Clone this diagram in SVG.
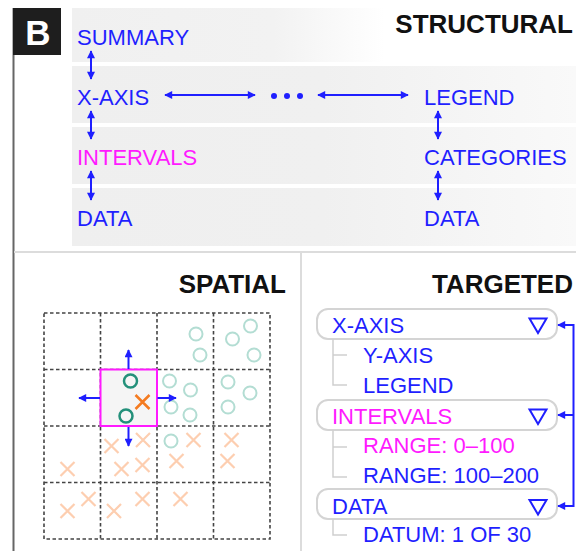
<svg xmlns="http://www.w3.org/2000/svg" width="576" height="551" viewBox="0 0 576 551">
<defs>
<linearGradient id="gTop" x1="0" y1="0" x2="1" y2="0">
<stop offset="0" stop-color="#f0f0f0"/><stop offset="0.4" stop-color="#f2f2f2"/><stop offset="0.62" stop-color="#ffffff"/>
</linearGradient>
<linearGradient id="gRow" x1="0" y1="0" x2="1" y2="0">
<stop offset="0" stop-color="#efefef"/><stop offset="0.5" stop-color="#f0f0f0"/><stop offset="1" stop-color="#f9f9f9"/>
</linearGradient>
<marker id="ah" viewBox="0 0 10 10" refX="9" refY="5" markerWidth="9" markerHeight="8" markerUnits="userSpaceOnUse" orient="auto-start-reverse">
<path d="M0,0 L10,5 L0,10 z" fill="#1f1fff"/>
</marker>
<g id="xs"><path d="M-7,-7 L7,7 M-7,7 L7,-7"/></g>
</defs>
<style>
.t{font-family:"Liberation Sans",Arial,sans-serif;font-size:22px;fill:#1f1fff}
.m{fill:#ff1aff}
.h{font-family:"Liberation Sans",Arial,sans-serif;font-size:26px;font-weight:bold;fill:#111;text-anchor:end}
.ar{stroke:#1f1fff;stroke-width:2;fill:none;marker-start:url(#ah);marker-end:url(#ah)}
.a1{stroke:#1f1fff;stroke-width:2;fill:none;marker-end:url(#ah)}
.grid{stroke:#444;stroke-width:1.6;stroke-dasharray:3.5 2.5;fill:none}
.lc{fill:none;stroke:#b3ddd3;stroke-width:2}
.dc{fill:none;stroke:#23907a;stroke-width:2.5}
.lx{stroke:#fdceb0;stroke-width:2.2;fill:none}
.dx{stroke:#f47b20;stroke-width:2.5;fill:none}
.box{fill:#fff;stroke:#d4d4d4;stroke-width:2}
.tree{stroke:#cfcfcf;stroke-width:1.5;fill:none}
.tri{fill:none;stroke:#1f1fff;stroke-width:2;stroke-linejoin:miter}
</style>
<rect width="576" height="551" fill="#fff"/>

<!-- frame -->
<line x1="13.5" y1="8" x2="13.5" y2="551" stroke="#666" stroke-width="2"/>
<line x1="14" y1="252" x2="576" y2="252" stroke="#dcdcdc" stroke-width="2"/>
<line x1="301" y1="252" x2="301" y2="551" stroke="#dcdcdc" stroke-width="2"/>
<g id="label-B">
<rect x="13" y="8" width="48" height="47" fill="#1e1e1e"/>
<text x="38" y="45" font-family="Liberation Sans,Arial,sans-serif" font-size="35" font-weight="bold" fill="#fff" text-anchor="middle">B</text>
</g>

<!-- structural bands -->
<rect x="72" y="8" width="504" height="54" fill="url(#gTop)"/>
<rect x="72" y="66" width="504" height="57" fill="url(#gRow)"/>
<rect x="72" y="127" width="504" height="57" fill="url(#gRow)"/>
<rect x="72" y="188" width="504" height="58" fill="url(#gRow)"/>
<text class="h" x="573" y="33">STRUCTURAL</text>

<g id="n-summary"><text class="t" x="77" y="45">SUMMARY</text></g>
<g id="n-xaxis"><text class="t" x="77" y="105">X-AXIS</text></g>
<g id="n-intervals"><text class="t m" x="77" y="165">INTERVALS</text></g>
<g id="n-data1"><text class="t" x="77" y="226">DATA</text></g>
<g id="n-dots"><circle cx="274" cy="96" r="3" fill="#1f1fff"/><circle cx="287" cy="96" r="3" fill="#1f1fff"/><circle cx="300" cy="96" r="3" fill="#1f1fff"/></g>
<g id="n-legend"><text class="t" x="424" y="105">LEGEND</text></g>
<g id="n-categories"><text class="t" x="424" y="165">CATEGORIES</text></g>
<g id="n-data2"><text class="t" x="424" y="226">DATA</text></g>

<g id="connectors">
<line class="ar" x1="91" y1="51" x2="91" y2="79"/>
<line class="ar" x1="91" y1="111" x2="91" y2="139"/>
<line class="ar" x1="91" y1="171" x2="91" y2="200"/>
<line class="ar" x1="438" y1="111" x2="438" y2="139"/>
<line class="ar" x1="438" y1="171" x2="438" y2="200"/>
<line class="ar" x1="165" y1="95" x2="255" y2="95"/>
<line class="ar" x1="318" y1="95" x2="408" y2="95"/>
</g>

<!-- spatial -->
<text class="h" x="286" y="293">SPATIAL</text>
<g id="spatial-grid">
<rect class="grid" x="44" y="313" width="226" height="226"/>
<line class="grid" x1="100.5" y1="313" x2="100.5" y2="539"/>
<line class="grid" x1="157" y1="313" x2="157" y2="539"/>
<line class="grid" x1="213.5" y1="313" x2="213.5" y2="539"/>
<line class="grid" x1="44" y1="369.5" x2="270" y2="369.5" stroke="#999"/>
<line class="grid" x1="44" y1="426" x2="270" y2="426"/>
<line class="grid" x1="44" y1="482.5" x2="270" y2="482.5"/>
</g>
<g id="spatial-points">
<circle class="lc" cx="196" cy="334" r="6.5"/>
<circle class="lc" cx="200" cy="355" r="6.5"/>
<circle class="lc" cx="232.5" cy="339" r="6.5"/>
<circle class="lc" cx="250.5" cy="326" r="6.5"/>
<circle class="lc" cx="254" cy="355" r="6.5"/>
<circle class="lc" cx="169.5" cy="381" r="6.5"/>
<circle class="lc" cx="190.5" cy="390" r="6.5"/>
<circle class="lc" cx="171" cy="407" r="6.5"/>
<circle class="lc" cx="190" cy="415" r="6.5"/>
<circle class="lc" cx="228" cy="382" r="6.5"/>
<circle class="lc" cx="250" cy="393" r="6.5"/>
<circle class="lc" cx="228" cy="407" r="6.5"/>
<circle class="lc" cx="171" cy="441" r="6.5"/>
<use href="#xs" class="lx" x="111.5" y="446"/>
<use href="#xs" class="lx" x="143" y="440"/>
<use href="#xs" class="lx" x="67.5" y="469"/>
<use href="#xs" class="lx" x="121.5" y="469"/>
<use href="#xs" class="lx" x="142.5" y="465"/>
<use href="#xs" class="lx" x="193.5" y="440"/>
<use href="#xs" class="lx" x="176.5" y="461"/>
<use href="#xs" class="lx" x="231.5" y="440"/>
<use href="#xs" class="lx" x="227.5" y="461"/>
<use href="#xs" class="lx" x="88.5" y="499"/>
<use href="#xs" class="lx" x="67.5" y="511"/>
<use href="#xs" class="lx" x="114" y="511"/>
<use href="#xs" class="lx" x="142.5" y="499"/>
<use href="#xs" class="lx" x="180.5" y="499"/>
</g>
<g id="spatial-focus">
<rect x="100.5" y="369.5" width="56.5" height="56.5" fill="#f5f5f5" stroke="#ff1aff" stroke-width="2"/>
<circle class="dc" cx="130.5" cy="381" r="6.5"/>
<circle class="dc" cx="126" cy="416" r="6.5"/>
<use href="#xs" class="dx" x="142.5" y="402"/>
<line class="a1" x1="128.5" y1="369" x2="128.5" y2="350"/>
<line class="a1" x1="128.5" y1="427" x2="128.5" y2="446"/>
<line class="a1" x1="100" y1="398" x2="79" y2="398"/>
<line class="a1" x1="157.5" y1="398" x2="176" y2="398"/>
</g>

<!-- targeted -->
<text class="h" x="573" y="293">TARGETED</text>
<g id="t-xaxis">
<rect class="box" x="317" y="309" width="240" height="30" rx="11"/>
<text class="t" x="332" y="333">X-AXIS</text>
<path class="tri" d="M529.5,318.5 L546.5,318.5 L538,333 z"/>
</g>
<g id="t-xaxis-children">
<path class="tree" d="M333,339 V385 H347 M333,355 H347"/>
<text class="t" x="363" y="363">Y-AXIS</text>
<text class="t" x="363" y="393">LEGEND</text>
</g>
<g id="t-intervals">
<rect class="box" x="317" y="400" width="240" height="30" rx="11"/>
<text class="t m" x="332" y="424">INTERVALS</text>
<path class="tri" d="M529.5,409.5 L546.5,409.5 L538,424 z"/>
</g>
<g id="t-intervals-children">
<path class="tree" d="M333,430 V477 H347 M333,447 H347"/>
<text class="t m" x="363" y="453">RANGE: 0–100</text>
<text class="t" x="363" y="483">RANGE: 100–200</text>
</g>
<g id="t-data">
<rect class="box" x="317" y="489" width="240" height="30" rx="11"/>
<text class="t" x="332" y="514">DATA</text>
<path class="tri" d="M529.5,500 L546.5,500 L538,514.5 z"/>
</g>
<g id="t-data-children">
<path class="tree" d="M333,519 V535 H347"/>
<text class="t" x="363" y="542">DATUM: 1 OF 30</text>
</g>
<g id="t-connectors">
<line x1="573.5" y1="324" x2="573.5" y2="507" stroke="#1f1fff" stroke-width="2"/>
<line class="a1" x1="574" y1="325" x2="558" y2="325"/>
<line class="a1" x1="574" y1="415" x2="558" y2="415"/>
<line class="a1" x1="574" y1="506" x2="558" y2="506"/>
</g>
</svg>
